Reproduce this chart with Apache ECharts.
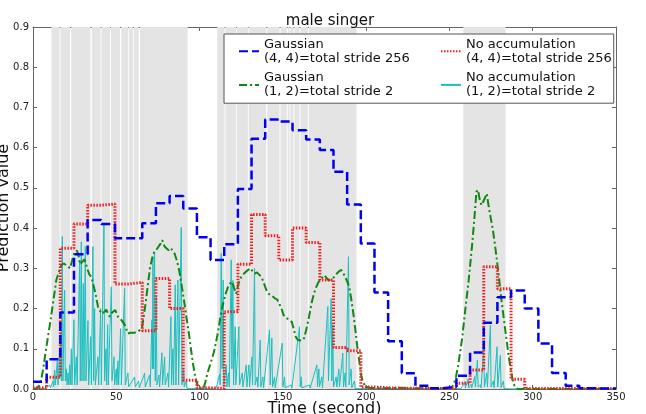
<!DOCTYPE html>
<html><head><meta charset="utf-8">
<script src="https://cdn.jsdelivr.net/npm/echarts@6/dist/echarts.min.js"></script>
<style>html,body{margin:0;padding:0;background:#fff}#chart{width:646px;height:414px}</style>
</head><body><div id="chart"></div>
<script>
// ---- data ----
const titleText = 'male singer';
const xName = 'Time (second)';
const yName = 'Prediction value';
const xTickLabels = ['0', '50', '100', '150', '200', '250', '300', '350'];
const yTickLabels = ['0.0', '0.1', '0.2', '0.3', '0.4', '0.5', '0.6', '0.7', '0.8', '0.9'];

const nameBlue = 'Gaussian\n(4, 4)=total stride 256';
const nameRed = 'No accumulation\n(4, 4)=total stride 256';
const nameGreen = 'Gaussian\n(1, 2)=total stride 2';
const nameCyan = 'No accumulation\n(1, 2)=total stride 2';

// shaded (gray) intervals, seconds
const bandStart = [11.1,16.5,23.0,35.3,41.1,46.8,53.0,57.5,60.5,64.3,110.6,115.5,122.5,129.5,140.7,148.6,152.9,154.5,156.9,160.6,165.6,258.3];
const bandEnd   = [16.0,22.2,34.5,40.6,46.3,52.3,57.0,60.0,63.4,92.8,115.0,122.0,129.0,140.0,148.0,152.4,154.0,156.4,160.0,165.0,194.2,283.7];

// step series (total stride 256): start time of each step
const stepTimes = [0,8.2,16.4,24.6,32.8,41.0,49.2,57.4,65.6,73.8,82.0,90.2,98.4,106.6,114.8,123.0,131.2,139.4,147.6,155.8,164.0,172.2,180.4,188.6,196.8,205.0,213.2,221.4,229.6,237.8,246.0,254.2,262.4,270.6,278.8,287.0,295.2,303.4,311.6,319.8,328.0,336.2,344.4,350];
const blueValues = [0.018,0.074,0.19,0.335,0.42,0.41,0.375,0.375,0.412,0.462,0.48,0.449,0.377,0.321,0.36,0.497,0.622,0.67,0.665,0.643,0.62,0.594,0.54,0.459,0.362,0.24,0.119,0.039,0.008,0.002,0.006,0.033,0.091,0.165,0.228,0.245,0.2,0.113,0.04,0.008,0.002,0.001,0.001,0.001];
const redValues = [0.003,0.029,0.35,0.41,0.457,0.46,0.261,0.265,0.145,0.275,0.2,0.022,0.003,0.001,0.192,0.31,0.434,0.381,0.321,0.40,0.364,0.271,0.103,0.095,0.005,0.003,0.002,0.002,0.001,0.001,0.001,0.014,0.047,0.304,0.249,0.024,0.001,0.001,0.001,0.001,0.001,0.001,0.001,0.001];

// Gaussian (1,2): [time, value]
const greenData = [[0,0],[2.5,0.002],[4,0.01],[5,0.025],[6,0.047],[7.5,0.09],[9,0.13],[10.5,0.17],[12,0.213],[14,0.271],[15.5,0.29],[17,0.308],[18.5,0.312],[19.7,0.31],[21,0.305],[22.2,0.30],[23.4,0.318],[25,0.341],[26.4,0.344],[27.4,0.33],[28.3,0.31],[29.5,0.31],[30.8,0.322],[31.6,0.316],[32.5,0.30],[33.8,0.285],[35,0.279],[36.2,0.26],[37.5,0.237],[39,0.205],[40,0.196],[41,0.188],[42.4,0.19],[44,0.197],[45,0.188],[46,0.18],[47.5,0.19],[49.4,0.196],[51,0.18],[53,0.172],[55,0.16],[57,0.138],[58.5,0.14],[61,0.14],[63,0.143],[65.3,0.15],[66.5,0.18],[67.8,0.22],[69,0.26],[70.2,0.30],[71.5,0.325],[72.7,0.34],[73.9,0.345],[75.2,0.353],[76.4,0.36],[77.6,0.37],[78.9,0.355],[80.1,0.35],[81.4,0.345],[82.6,0.35],[83.8,0.345],[85,0.337],[86.3,0.32],[87.5,0.30],[88.8,0.27],[90,0.237],[91.2,0.205],[92.4,0.17],[93.7,0.135],[94.9,0.097],[96.1,0.062],[97.4,0.03],[98.6,0.012],[99.8,0.002],[101,0.0],[102.3,0.0],[103.5,0.018],[104.8,0.04],[106,0.056],[107.2,0.072],[108.5,0.09],[109.7,0.113],[111,0.14],[112.2,0.171],[113.4,0.2],[114.6,0.22],[115.9,0.24],[117.1,0.254],[118.3,0.262],[119.5,0.267],[120.8,0.25],[122,0.237],[123.2,0.26],[124.5,0.275],[125.7,0.283],[126.9,0.287],[128.8,0.295],[130.6,0.30],[131.9,0.292],[133.1,0.287],[134.4,0.29],[135.6,0.289],[136.8,0.28],[138,0.27],[139.3,0.255],[140.5,0.242],[141.7,0.236],[143,0.233],[144.2,0.23],[145.4,0.225],[146.7,0.222],[147.9,0.22],[149.2,0.2],[150.4,0.184],[151.6,0.178],[152.8,0.175],[154,0.172],[155.3,0.167],[156.5,0.15],[157.7,0.13],[159,0.122],[160.2,0.118],[161.4,0.12],[162.7,0.126],[163.9,0.145],[165.1,0.167],[166.4,0.195],[167.6,0.22],[168.9,0.24],[170.1,0.254],[171.3,0.265],[172.5,0.272],[173.8,0.278],[175,0.283],[176.2,0.276],[177.5,0.27],[178.7,0.273],[179.9,0.275],[181.2,0.28],[182.4,0.287],[183.6,0.292],[184.9,0.296],[186.1,0.29],[187.3,0.279],[188.6,0.268],[189.8,0.254],[191,0.225],[192.3,0.188],[193.5,0.148],[194.7,0.105],[196,0.065],[197.2,0.03],[198.4,0.015],[199.7,0.006],[202,0.003],[210,0.002],[220,0.003],[230,0.002],[240,0.002],[248,0.002],[251.4,0.003],[252.6,0.012],[253.9,0.03],[255.1,0.055],[256.3,0.088],[257.6,0.125],[258.8,0.17],[260,0.215],[261.3,0.26],[262.5,0.31],[263.7,0.362],[265,0.425],[266.2,0.49],[267.2,0.495],[268.2,0.47],[269.2,0.457],[270.2,0.465],[271.1,0.473],[272.4,0.486],[273.6,0.453],[274.8,0.425],[276.1,0.395],[277.3,0.36],[278.5,0.32],[279.8,0.275],[281,0.229],[282.2,0.19],[283.5,0.147],[284.7,0.11],[285.9,0.072],[287.2,0.04],[288.4,0.014],[289.6,0.004],[290.9,0.0],[300,0.0],[320,0.0],[350,0.0]];

// No accumulation (1,2): [time, value]
const cyanData = [[0,0],[8,0.002],[10,0.01],[10.5,0.003],[12,0.02],[12.4,0.005],[13,0.047],[13.4,0.01],[14.6,0.07],[15,0.01],[16,0.097],[16.3,0.03],[16.6,0.142],[17,0.02],[17.6,0.379],[18,0.02],[19,0.246],[19.4,0.02],[20,0.05],[20.4,0.01],[21,0.04],[21.5,0.01],[22,0.06],[22.4,0.01],[23,0.1],[23.4,0.01],[24.6,0.172],[25,0.01],[26,0.08],[26.5,0.01],[28,0.32],[28.4,0.02],[29,0.366],[29.4,0.02],[30.2,0.263],[30.6,0.02],[31.4,0.354],[31.8,0.02],[33,0.17],[33.4,0.01],[34.6,0.13],[35,0.01],[36,0.354],[36.4,0.02],[37,0.2],[37.4,0.01],[39,0.08],[39.4,0.01],[40.6,0.2],[41,0.01],[42.6,0.412],[43,0.02],[43.8,0.1],[44.2,0.01],[44.8,0.16],[45.2,0.01],[47,0.254],[47.4,0.02],[48.6,0.08],[49,0.01],[50,0.05],[50.4,0.01],[51,0.07],[51.4,0.01],[52.6,0.15],[53,0.01],[55,0.25],[55.4,0.01],[57,0.04],[57.4,0.005],[61,0.03],[61.4,0.005],[63.4,0.02],[63.8,0.003],[67,0.039],[67.4,0.005],[70,0.035],[70.4,0.005],[71.4,0.172],[71.7,0.05],[72,0.329],[72.4,0.05],[73,0.341],[73.4,0.02],[74,0.23],[74.4,0.01],[75.6,0.035],[76,0.005],[77.4,0.09],[77.8,0.01],[79,0.08],[79.4,0.01],[81,0.04],[81.4,0.005],[82.8,0.18],[83.2,0.01],[84,0.1],[84.4,0.01],[85.4,0.259],[85.8,0.01],[87,0.271],[87.4,0.01],[89,0.402],[89.4,0.01],[90.4,0.05],[90.8,0.005],[92,0.02],[92.4,0.002],[95,0.001],[110,0.002],[112,0.036],[112.4,0.01],[113,0.337],[113.5,0.05],[114.2,0.271],[114.6,0.01],[116,0.06],[116.4,0.005],[117.4,0.04],[117.8,0.005],[119,0.321],[119.4,0.05],[120,0.27],[120.4,0.01],[121.4,0.155],[121.8,0.01],[123.6,0.155],[124,0.01],[125.6,0.04],[126,0.005],[128,0.06],[128.4,0.005],[129.6,0.06],[130,0.005],[131.4,0.08],[131.8,0.01],[133,0.30],[133.4,0.01],[134.5,0.03],[135,0.005],[136.4,0.122],[136.8,0.005],[138,0.03],[138.4,0.003],[142,0.147],[142.4,0.01],[143.4,0.127],[143.8,0.005],[145,0.03],[145.4,0.003],[149.6,0.114],[150,0.005],[151,0.03],[151.4,0.003],[155,0.01],[155.4,0.002],[160,0.155],[160.4,0.005],[161,0.03],[161.4,0.003],[166,0.01],[166.4,0.002],[170.4,0.06],[170.8,0.005],[171.6,0.05],[172,0.005],[173.4,0.03],[173.8,0.003],[177,0.205],[177.4,0.02],[179,0.225],[179.4,0.02],[180,0.16],[180.4,0.005],[182,0.03],[182.4,0.005],[183.6,0.05],[184,0.005],[186,0.089],[186.4,0.005],[187.4,0.04],[187.8,0.005],[189.4,0.329],[189.8,0.01],[191,0.05],[191.4,0.003],[193,0.02],[193.4,0.001],[257,0.001],[259.2,0.018],[259.6,0.003],[261.2,0.024],[261.6,0.003],[263,0.012],[263.4,0.003],[265.2,0.031],[265.6,0.005],[266.8,0.072],[267.2,0.005],[268.6,0.01],[269,0.003],[270.6,0.101],[271,0.005],[272.4,0.04],[272.8,0.005],[274.6,0.159],[275,0.005],[276.4,0.02],[276.8,0.003],[278.6,0.105],[279,0.005],[280.6,0.084],[281,0.003],[282.4,0.02],[282.8,0.001],[290,0],[350,0]];

// ---- chart ----
const font = 'DejaVu Sans';
const bandAreas = bandStart.map((s, i) => [{ xAxis: s }, { xAxis: bandEnd[i] }]);
const blueData = stepTimes.map((t, i) => [t, blueValues[i]]);
const redData = stepTimes.map((t, i) => [t, redValues[i]]);

const frameColor = '#666';
const axisCommon = {
  min: 0,
  axisLine: { show: true, onZero: false, lineStyle: { color: frameColor, width: 1 } },
  axisTick: { show: true, inside: true, length: 4, lineStyle: { color: frameColor } },
  splitLine: { show: false },
  axisLabel: { show: false }
};

const chart = echarts.init(document.getElementById('chart'), null, { renderer: 'canvas' });
chart.setOption({
  animation: false,
  backgroundColor: '#fff',
  textStyle: { fontFamily: font },
  title: {
    text: titleText, left: 325, top: 9, textAlign: 'center',
    textStyle: { fontFamily: font, fontSize: 15, fontWeight: 'normal', color: '#111' }
  },
  grid: { left: 33, right: 30, top: 27, bottom: 25, containLabel: false, outerBoundsMode: 'none' },
  legend: {
    left: 224, top: 34, width: 380, orient: 'horizontal',
    padding: [3, 2, 4, 14], itemGap: 5, itemWidth: 20, itemHeight: 14,
    backgroundColor: '#fff', borderColor: '#555', borderWidth: 1, borderRadius: 0,
    itemStyle: { opacity: 0, borderWidth: 0 },
    textStyle: { fontFamily: font, fontSize: 13, lineHeight: 14.3, color: '#111' },
    data: [
      { name: nameBlue, textStyle: { width: 171 } },
      { name: nameRed, textStyle: { width: 142 } },
      { name: nameGreen, textStyle: { width: 171 } },
      { name: nameCyan, textStyle: { width: 142 } }
    ]
  },
  xAxis: [
    Object.assign({}, axisCommon, {
      type: 'value', position: 'bottom', max: 350, interval: 50,
      name: xName, nameLocation: 'middle', nameGap: 12, nameMoveOverlap: false,
      nameTextStyle: { fontFamily: font, fontSize: 16, color: '#111' },
      axisLabel: { show: true, margin: 3, fontFamily: font, fontSize: 10, color: '#222',
        formatter: v => xTickLabels[Math.round(v / 50)] }
    }),
    Object.assign({}, axisCommon, { type: 'value', position: 'top', max: 350, interval: 50 })
  ],
  yAxis: [
    Object.assign({}, axisCommon, {
      type: 'value', position: 'left', max: 0.9, interval: 0.1,
      name: yName, nameLocation: 'middle', nameGap: 21, nameMoveOverlap: false,
      nameTextStyle: { fontFamily: font, fontSize: 16, color: '#111' },
      axisLabel: { show: true, margin: 4, fontFamily: font, fontSize: 10, color: '#222',
        formatter: v => yTickLabels[Math.round(v * 10)] }
    }),
    Object.assign({}, axisCommon, { type: 'value', position: 'right', max: 0.9, interval: 0.1 })
  ],
  series: [
    {
      name: 'bands', type: 'line', data: [], silent: true, z: 1,
      markArea: { silent: true, itemStyle: { color: '#e4e4e4' }, data: bandAreas }
    },
    {
      name: nameCyan, type: 'line', data: cyanData, z: 2,
      symbol: 'none', showSymbol: false,
      lineStyle: { color: '#1cbfbf', width: 1 }, itemStyle: { color: '#1cbfbf' }
    },
    {
      name: nameGreen, type: 'line', data: greenData, z: 3,
      symbol: 'none', showSymbol: false,
      lineStyle: { color: '#118811', width: 2, type: [8, 3, 2, 3] }, itemStyle: { color: '#118811' }
    },
    {
      name: nameRed, type: 'line', data: redData, step: 'end', z: 4,
      symbol: 'none', showSymbol: false,
      lineStyle: { color: '#f02020', width: 3, type: [1.5, 1.5] }, itemStyle: { color: '#f02020' }
    },
    {
      name: nameBlue, type: 'line', data: blueData, step: 'end', z: 5,
      symbol: 'none', showSymbol: false,
      lineStyle: { color: '#0000ee', width: 2.5, type: [9, 4] }, itemStyle: { color: '#0000ee' }
    }
  ]
});
</script>
</body></html>
